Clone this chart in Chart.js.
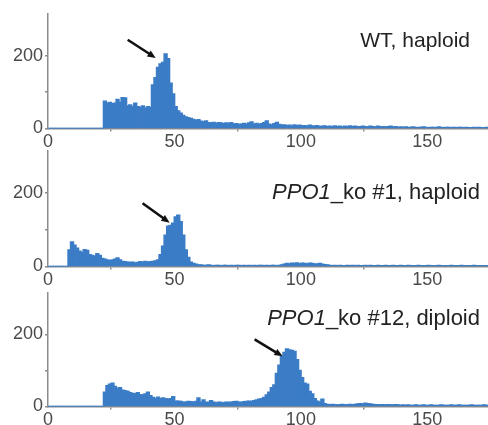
<!DOCTYPE html>
<html>
<head>
<meta charset="utf-8">
<script src="https://cdn.jsdelivr.net/npm/chart.js@4.4.0/dist/chart.umd.min.js"></script>
<style>
  html, body { margin: 0; padding: 0; background: #fff; width: 488px; height: 425px; overflow: hidden; }
  .panel { position: absolute; left: 0; width: 488px; }
  .title { position: absolute; font-family: 'Liberation Sans', Arial, sans-serif; font-size: 21px; line-height: 24px; color: #222; white-space: nowrap; }
  .title.ko { font-size: 22px; }
</style>
</head>
<body>
<div class="panel" style="top:0px"><canvas id="chartOne" width="488" height="153"></canvas></div>
<div class="panel" style="top:138px"><canvas id="chartTwo" width="488" height="153"></canvas></div>
<div class="panel" style="top:278px"><canvas id="chartThree" width="488" height="153"></canvas></div>
<div class="title" style="right:18px;top:28px">WT, haploid</div>
<div class="title ko" style="right:8px;top:180px"><i>PPO1</i>_ko #1, haploid</div>
<div class="title ko" style="right:8px;top:306px"><i>PPO1</i>_ko #12, diploid</div>

<script>
// histogram bins: 1 unit wide, starting at 0
const binStart = 0;
const binWidth = 1;
const xTicks = [0, 50, 100, 150];
const yTicks = [0, 200];

// WT, haploid (counts per bin, bins 0..174)
const wtHaploid = [
  0, 0, 0, 0, 0, 0, 0, 0, 0, 0,
  0, 0, 0, 0, 0, 0, 0, 0, 0, 0,
  0, 0, 75, 70, 72, 68, 70, 80, 72, 85,
  84, 62, 65, 60, 70, 60, 58, 62, 56, 60,
  58, 120, 140, 168, 178, 182, 205, 192, 125, 95,
  60, 48, 42, 36, 32, 30, 28, 25, 22, 24,
  20, 18, 21, 16, 15, 17, 14, 16, 15, 13,
  15, 14, 16, 12, 13, 11, 12, 14, 12, 15,
  18, 12, 14, 11, 13, 16, 21, 12, 10, 13,
  17, 11, 9, 10, 8, 9, 7, 10, 8, 9,
  7, 8, 6, 9, 7, 6, 8, 5, 6, 7,
  5, 6, 5, 7, 5, 6, 4, 6, 5, 7,
  5, 6, 4, 5, 6, 5, 4, 6, 5, 4,
  6, 4, 5, 4, 5, 6, 4, 5, 3, 4,
  3, 4, 3, 3, 4, 2, 3, 3, 4, 3,
  2, 3, 3, 2, 4, 3, 2, 3, 3, 2,
  3, 2, 3, 3, 2, 3, 2, 2, 3, 2,
  3, 2, 2, 3, 2,
];

// PPO1_ko #1, haploid
const ko1Haploid = [
  0, 0, 0, 0, 0, 0, 0, 0, 45, 67,
  58, 50, 42, 38, 46, 44, 32, 30, 28, 35,
  30, 22, 20, 18, 16, 18, 20, 23, 18, 14,
  13, 12, 11, 12, 10, 11, 13, 12, 14, 12,
  13, 14, 15, 18, 32, 55, 85, 110, 112, 118,
  135, 140, 122, 85, 45, 25, 12, 8, 6, 4,
  4, 3, 3, 4, 3, 2, 3, 3, 2, 3,
  3, 2, 3, 2, 3, 3, 2, 3, 2, 3,
  2, 3, 2, 3, 3, 2, 3, 2, 3, 3,
  2, 3, 4, 6, 8, 7, 9, 8, 10, 7,
  9, 8, 7, 9, 8, 6, 7, 8, 6, 5,
  4, 3, 2, 3, 2, 3, 2, 2, 3, 2,
  3, 2, 3, 2, 2, 3, 2, 3, 2, 2,
  3, 2, 2, 3, 2, 2, 3, 2, 2, 3,
  2, 2, 3, 2, 2, 2, 3, 2, 2, 2,
  3, 2, 2, 2, 3, 2, 2, 2, 2, 3,
  2, 2, 2, 3, 2, 2, 2, 2, 3, 2,
  2, 2, 2, 2, 2,
];

// PPO1_ko #12, diploid
const ko12Diploid = [
  0, 0, 0, 0, 0, 0, 0, 0, 0, 0,
  0, 0, 0, 0, 0, 0, 0, 0, 0, 0,
  0, 0, 40, 58, 62, 65, 56, 50, 52, 45,
  44, 42, 38, 36, 35, 38, 33, 32, 35, 40,
  30, 25, 22, 26, 22, 24, 22, 20, 22, 27,
  15, 15, 14, 12, 12, 14, 13, 12, 14, 24,
  12, 18, 11, 12, 16, 12, 10, 12, 11, 10,
  12, 11, 12, 13, 14, 12, 11, 13, 14, 15,
  14, 16, 18, 20, 22, 25, 32, 40, 52, 60,
  92, 115, 138, 150, 160, 157, 156, 153, 130, 100,
  80, 65, 62, 42, 35, 22, 15, 12, 20, 8,
  6, 5, 6, 5, 4, 5, 6, 4, 5, 6,
  5, 6, 7, 8, 7, 9, 8, 7, 6, 5,
  5, 4, 5, 4, 5, 4, 4, 5, 4, 3,
  4, 3, 4, 3, 3, 4, 3, 3, 4, 3,
  3, 4, 3, 3, 3, 4, 3, 3, 3, 4,
  3, 3, 4, 3, 3, 3, 3, 4, 3, 3,
  3, 3, 4, 3, 3,
];

// arrows: [tailX, tailY] -> [tipX, tipY] in data units
const arrowOne = { from: [31.5, 244], to: [42.6, 194] };
const arrowTwo = { from: [37.4, 172], to: [48.1, 119] };
const arrowThree = { from: [81.7, 186], to: [92.8, 139] };

window.addEventListener('load', () => {
  chart();
});

const arrowPlugin = {
  id: 'arrow',
  afterDatasetsDraw(c, args, opts) {
    if (!opts.from) return;
    const { ctx, scales } = c;
    const x0 = scales.x.getPixelForValue(opts.from[0]);
    const y0 = scales.y.getPixelForValue(opts.from[1]);
    const x1 = scales.x.getPixelForValue(opts.to[0]);
    const y1 = scales.y.getPixelForValue(opts.to[1]);
    const ang = Math.atan2(y1 - y0, x1 - x0);
    const head = 9;
    ctx.save();
    ctx.strokeStyle = '#111';
    ctx.fillStyle = '#111';
    ctx.lineWidth = 2.5;
    ctx.beginPath();
    ctx.moveTo(x0, y0);
    ctx.lineTo(x1 - Math.cos(ang) * head * 0.7, y1 - Math.sin(ang) * head * 0.7);
    ctx.stroke();
    ctx.beginPath();
    ctx.moveTo(x1, y1);
    ctx.lineTo(x1 - head * Math.cos(ang - 0.4), y1 - head * Math.sin(ang - 0.4));
    ctx.lineTo(x1 - head * Math.cos(ang + 0.4), y1 - head * Math.sin(ang + 0.4));
    ctx.closePath();
    ctx.fill();
    ctx.restore();
  },
};

const chart = () => {
  const ctxOne = document.getElementById('chartOne').getContext('2d');
  const ctxTwo = document.getElementById('chartTwo').getContext('2d');
  const ctxThree = document.getElementById('chartThree').getContext('2d');

  const barColor = '#3b7cc6';
  const axisColor = '#8c8c8c';
  const labelFont = { family: "'Liberation Sans', Arial, sans-serif", size: 18 };

  const makeConfig = (counts, arrow, padTop) => ({
    type: 'bar',
    data: {
      datasets: [
        {
          data: counts.map((c, i) => ({ x: binStart + (i + 0.5) * binWidth, y: c })),
          backgroundColor: barColor,
          borderWidth: 0,
          inflateAmount: 0.6,
          barPercentage: 1.25,
          categoryPercentage: 1,
        },
      ],
    },
    options: {
      responsive: false,
      animation: false,
      layout: { padding: { top: padTop, right: 0, left: 0, bottom: 0 } },
      plugins: {
        legend: { display: false },
        tooltip: { enabled: false },
        arrow: arrow,
      },
      scales: {
        x: {
          type: 'linear',
          min: 0,
          max: 174,
          offset: false,
          grid: { drawOnChartArea: false, tickLength: 3, color: axisColor, lineWidth: 1.5 },
          border: { color: axisColor, width: 1.5 },
          ticks: {
            stepSize: 50,
            padding: 0,
            autoSkip: false,
            maxRotation: 0,
            color: '#4a4a4a',
            font: labelFont,
            callback: (v) => (xTicks.includes(v) ? v : null),
          },
        },
        y: {
          min: 0,
          max: 315,
          afterFit: (scale) => {
            scale.width = 48;
          },
          grid: {
            drawOnChartArea: false,
            tickLength: 3,
            lineWidth: 1.5,
            color: (ctx) => (ctx.tick && ctx.tick.value > 250 ? 'rgba(0,0,0,0)' : axisColor),
          },
          border: { color: axisColor, width: 1.5 },
          ticks: {
            stepSize: 100,
            padding: 2,
            color: '#4a4a4a',
            font: labelFont,
            callback: (v) => (yTicks.includes(v) ? v : (v === 100 ? '' : null)),
          },
        },
      },
    },
    plugins: [arrowPlugin],
  });

  new Chart(ctxOne, makeConfig(wtHaploid, arrowOne, 14));
  new Chart(ctxTwo, makeConfig(ko1Haploid, arrowTwo, 12));
  new Chart(ctxThree, makeConfig(ko12Diploid, arrowThree, 15));
};
</script>
</body>
</html>
